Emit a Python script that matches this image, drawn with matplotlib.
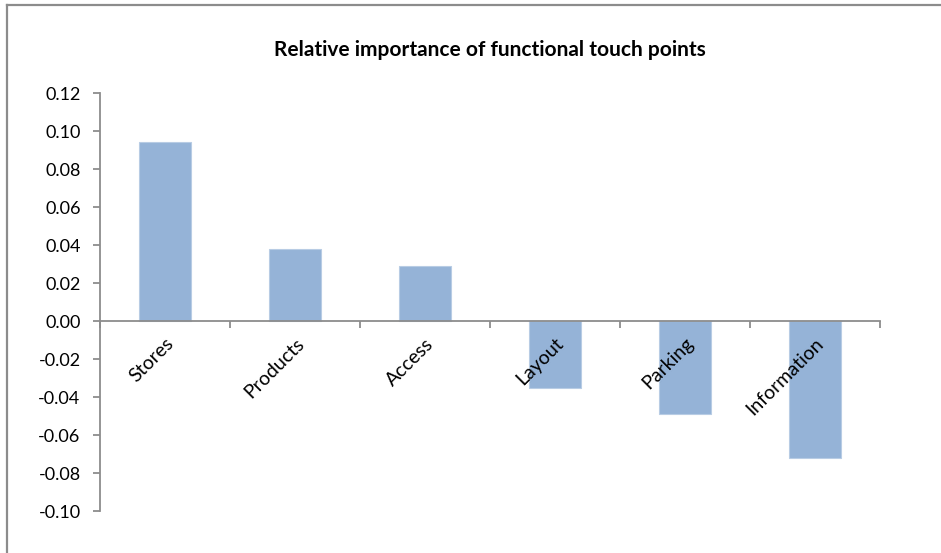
import matplotlib
matplotlib.use("Agg")
import matplotlib.pyplot as plt
import matplotlib.transforms as mtransforms
from matplotlib.lines import Line2D
import numpy as np

plt.rcParams['font.family'] = ['Lato', 'DejaVu Sans']

# values
categories = ["Stores", "Products", "Access", "Layout", "Parking", "Information"]
importance = [0.094, 0.038, 0.029, -0.035, -0.049, -0.072]
y_ticks = [-0.10, -0.08, -0.06, -0.04, -0.02, 0.00, 0.02, 0.04, 0.06, 0.08, 0.10, 0.12]

BAR_COLOR = '#95B3D7'
AXIS_GRAY = '#8c8c8c'

W, H = 941, 553
fig = plt.figure(figsize=(W/100, H/100), dpi=100)
fig.patch.set_facecolor('white')

ax = fig.add_axes([100/W, 1 - 511/H, 780/W, 418/H])
x = np.arange(len(categories))
ax.bar(x, importance, width=0.4, color=BAR_COLOR, edgecolor='#b8cce4', linewidth=0.8, zorder=1)

ax.set_xlim(-0.5, len(categories) - 0.5)
ax.set_ylim(y_ticks[0], y_ticks[-1])
ax.set_yticks(y_ticks)
ax.set_yticklabels([f"{v:.2f}" for v in y_ticks], fontsize=13)

for side in ['top', 'right']:
    ax.spines[side].set_visible(False)
ax.spines['left'].set_color(AXIS_GRAY)
ax.spines['left'].set_linewidth(1.3)
ax.spines['bottom'].set_position(('data', 0))
ax.spines['bottom'].set_color(AXIS_GRAY)
ax.spines['bottom'].set_linewidth(1.3)

ax.tick_params(axis='y', direction='out', length=5, width=1.3, color=AXIS_GRAY, pad=9)
# boundaries between categories get the tick marks, the centres get the labels
ax.set_xticks(np.arange(-0.5, len(categories)), minor=True)
ax.tick_params(axis='x', which='minor', direction='out', length=5, width=1.3, color=AXIS_GRAY)
ax.set_xticks(x)
ax.set_xticklabels(categories, fontsize=14, rotation=45, ha='right', va='top',
                   rotation_mode='anchor')
ax.tick_params(axis='x', which='major', length=0, pad=10)
shift = mtransforms.ScaledTranslation(0, 0, fig.dpi_scale_trans)
for lbl in ax.get_xticklabels():
    lbl.set_transform(lbl.get_transform() + shift)
    lbl.set_zorder(5)

ax.set_title("Relative importance of functional touch points", fontsize=15,
             fontweight='bold', pad=27)

# chart frame (only top and left edges visible in the crop)
fig.add_artist(Line2D([6.5/W, 1], [1 - 4.5/H, 1 - 4.5/H], transform=fig.transFigure,
                      color=AXIS_GRAY, linewidth=1.6))
fig.add_artist(Line2D([6.5/W, 6.5/W], [0, 1 - 4.5/H], transform=fig.transFigure,
                      color=AXIS_GRAY, linewidth=1.6))

fig.savefig("out.png", dpi=100, facecolor='white')
